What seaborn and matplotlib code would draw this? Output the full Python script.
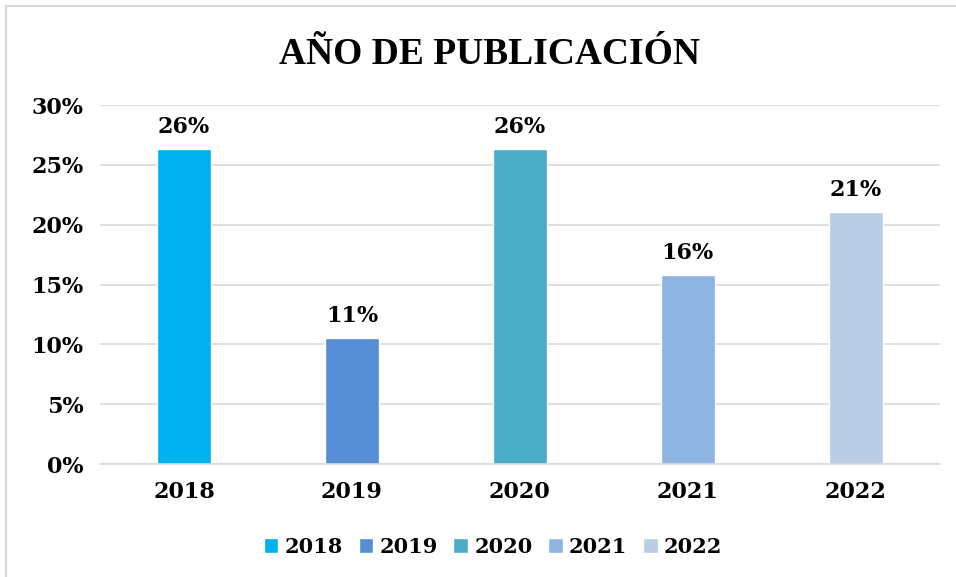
import pandas as pd
import matplotlib.pyplot as plt
import seaborn as sns
from matplotlib.patches import Rectangle
from matplotlib.ticker import PercentFormatter

# Data
years = ['2018', '2019', '2020', '2021', '2022']
shares = [26.32, 10.53, 26.32, 15.79, 21.05]
bar_colors = ['#00B0F0', '#558ED5', '#4BACC6', '#8EB4E3', '#B9CDE5']

data = pd.DataFrame({'Year': years, 'Share': shares})

sns.set_style('white')
plt.rcParams['font.family'] = ['DejaVu Serif']
plt.rcParams['text.color'] = 'black'
plt.rcParams['xtick.color'] = 'black'
plt.rcParams['ytick.color'] = 'black'

fig = plt.figure(figsize=(9.56, 5.77), dpi=100)
ax = fig.add_axes([0.1046, 0.1958, 0.8784, 0.622])

sns.barplot(data=data, x='Year', y='Share', hue='Year', palette=bar_colors,
            width=0.32, saturation=1, legend=True, ax=ax)

ax.set_ylim(0, 30)
ax.set_yticks(range(0, 31, 5))
ax.yaxis.set_major_formatter(PercentFormatter(decimals=0))
ax.grid(axis='y', color='#D9D9D9', linewidth=1.2)
ax.set_axisbelow(True)
for side in ['top', 'right', 'left']:
    ax.spines[side].set_visible(False)
ax.spines['bottom'].set_color('#D9D9D9')
ax.spines['bottom'].set_linewidth(1.2)
ax.tick_params(axis='both', length=0, labelsize=16, pad=12)
for lbl in ax.get_xticklabels() + ax.get_yticklabels():
    lbl.set_fontweight('bold')
ax.set_xlabel('')
ax.set_ylabel('')

# value labels above bars
for cont in ax.containers:
    ax.bar_label(cont, fmt='%.0f%%', padding=8, fontsize=16, fontweight='bold')

# legend at the bottom
leg = ax.legend(loc='upper center', bbox_to_anchor=(0.468, -0.15), ncol=5, frameon=False,
                handlelength=0.7, handleheight=0.7, handletextpad=0.3, columnspacing=0.75,
                prop={'family': 'DejaVu Serif', 'weight': 'bold', 'size': 15})

fig.text(0.512, 0.905, 'AÑO DE PUBLICACIÓN', ha='center', va='center',
         fontsize=27, fontweight='bold', family='Liberation Serif')

# chart frame
fig.patches.append(Rectangle((0.006, -0.01), 1.1, 0.999, transform=fig.transFigure,
                             fill=False, edgecolor='#D9D9D9', linewidth=1.5))

fig.savefig('out.png', dpi=100)
